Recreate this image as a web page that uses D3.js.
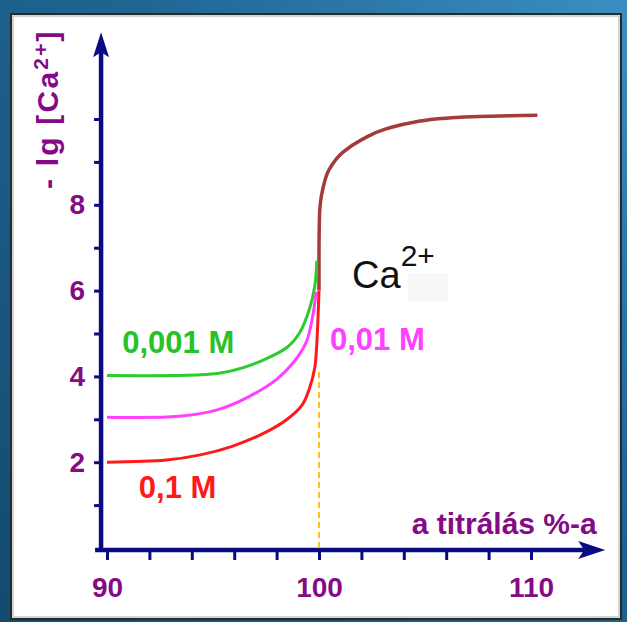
<!DOCTYPE html>
<html><head><meta charset="utf-8">
<script src="https://cdn.jsdelivr.net/npm/d3@7"></script>
<style>html,body{margin:0;padding:0;background:#1a5880;overflow:hidden} svg{display:block}</style>
</head><body><svg id="c" width="627" height="622"></svg>
<script>
// ---- data ----
const xTickValues = [90, 92, 94, 96, 98, 100, 102, 104, 106, 108, 110];
const xTickLabels = [90, 100, 110];
const yTickValues = [1, 2, 3, 4, 5, 6, 7, 8, 9, 10];
const yTickLabels = [2, 4, 6, 8];
const seriesNames = ["0,1 M", "0,01 M", "0,001 M"];
const curve0_1 = [[90, 2.0], [92.8, 2.05], [94.4, 2.17], [95.9, 2.37], [97.5, 2.70], [98.5, 3.0], [99.2, 3.33], [99.55, 3.72], [99.8, 4.2], [99.9, 4.8], [100, 6.0]];
const curve0_01 = [[90, 3.05], [93.4, 3.07], [95.2, 3.22], [96.7, 3.53], [98.0, 3.93], [98.8, 4.33], [99.4, 4.8], [99.7, 5.4], [99.87, 5.97]];
const curve0_001 = [[90, 4.02], [95.2, 4.07], [96.4, 4.2], [97.5, 4.41], [98.5, 4.68], [99.1, 5.03], [99.55, 5.57], [99.8, 6.1], [99.9, 6.7]];
const curveExcess = [[100, 6.0], [100, 6.8], [100.02, 7.7], [100.18, 8.37], [100.49, 8.83], [101.12, 9.22], [102.06, 9.53], [103.16, 9.77], [104.41, 9.92], [105.99, 10.02], [107.55, 10.06], [110.3, 10.09]];
const equivalence = 100;

// ---- layout ----
const W = 627, H = 622;
const svg = d3.select("#c");
const FONT = "'Liberation Sans', Arial, sans-serif";
const PURPLE = "#850a85", NAVY = "#0a0a82";

const defs = svg.append("defs");
const g = defs.append("linearGradient").attr("id", "bg").attr("x1", 0).attr("y1", 1).attr("x2", 1).attr("y2", 0);
g.append("stop").attr("offset", 0).attr("stop-color", "#134a70");
g.append("stop").attr("offset", 0.6).attr("stop-color", "#1f6592");
g.append("stop").attr("offset", 1).attr("stop-color", "#3a8fc2");
svg.append("rect").attr("width", W).attr("height", H).attr("fill", "url(#bg)");

// panel
svg.append("rect").attr("x", 11).attr("y", 14).attr("width", 610).attr("height", 605)
  .attr("fill", "#fff").attr("stroke", "#2a2a2a").attr("stroke-width", 2);
svg.append("rect").attr("x", 13).attr("y", 16).attr("width", 606).attr("height", 601)
  .attr("fill", "none").attr("stroke", "#aaa").attr("stroke-width", 1);

const x = d3.scaleLinear().domain([90, 110]).range([107, 531]);
const y = d3.scaleLinear().domain([0, 10]).range([548, 119]);

const axisY0 = y(0) + 2;
const axisX0 = x(89.72);

// x axis ticks
const xa = svg.append("g").attr("transform", `translate(0,${axisY0})`)
  .call(d3.axisBottom(x).tickValues(xTickValues).tickSize(10).tickPadding(17)
    .tickFormat(d => xTickLabels.includes(d) ? d : ""));
xa.select(".domain").remove();
xa.selectAll("line").attr("stroke", NAVY).attr("stroke-width", 3);
xa.selectAll("text").attr("fill", PURPLE).style("font", `bold 28px ${FONT}`);

// y axis ticks
const ya = svg.append("g").attr("transform", `translate(${axisX0},0)`)
  .call(d3.axisLeft(y).tickValues(yTickValues).tickSize(7).tickPadding(9)
    .tickFormat(d => yTickLabels.includes(d) ? d : ""));
ya.select(".domain").remove();
ya.selectAll("line").attr("stroke", NAVY).attr("stroke-width", 3);
ya.selectAll("text").attr("fill", PURPLE).style("font", `bold 28px ${FONT}`);

// axis lines with arrows
svg.append("line").attr("x1", axisX0).attr("x2", axisX0).attr("y1", axisY0 + 2).attr("y2", y(11.6))
  .attr("stroke", NAVY).attr("stroke-width", 4.5);
svg.append("line").attr("x1", axisX0 - 6).attr("x2", x(112.5)).attr("y1", axisY0).attr("y2", axisY0)
  .attr("stroke", NAVY).attr("stroke-width", 4.5);
const tipY = y(12.02), tipX = x(113.5);
svg.append("path").attr("d", `M${axisX0},${tipY} L${axisX0 + 8},${tipY + 25} L${axisX0},${tipY + 20} L${axisX0 - 8},${tipY + 25} Z`).attr("fill", NAVY);
svg.append("path").attr("d", `M${tipX},${axisY0} L${tipX - 27},${axisY0 + 9} L${tipX - 21},${axisY0} L${tipX - 27},${axisY0 - 9} Z`).attr("fill", NAVY);

// dashed equivalence line
svg.append("line").attr("x1", x(equivalence)).attr("x2", x(equivalence)).attr("y1", axisY0 - 2).attr("y2", y(4.1))
  .attr("stroke", "#ffc21a").attr("stroke-width", 2).attr("stroke-dasharray", "6,4");

// curves
const lineX = d3.line().x(d => x(d[0])).y(d => y(d[1])).curve(d3.curveCatmullRom.alpha(0.5));
const lineY = d3.line().x(d => x(d[0])).y(d => y(d[1])).curve(d3.curveMonotoneY);
svg.append("path").attr("d", lineY(curveExcess)).attr("fill", "none").attr("stroke", "#a33b3b").attr("stroke-width", 3.5);
svg.append("path").attr("d", lineX(curve0_001)).attr("fill", "none").attr("stroke", "#2ccc2c").attr("stroke-width", 3);
svg.append("path").attr("d", lineX(curve0_01)).attr("fill", "none").attr("stroke", "#ff40ff").attr("stroke-width", 3);
svg.append("path").attr("d", lineX(curve0_1)).attr("fill", "none").attr("stroke", "#ff1a1a").attr("stroke-width", 3);

// series labels
svg.append("text").attr("x", x(90.72)).attr("y", y(4.55)).attr("fill", "#26c226")
  .style("font", `bold 31px ${FONT}`).text(seriesNames[2]);
svg.append("text").attr("x", x(100.52)).attr("y", y(4.62)).attr("fill", "#ff40ff")
  .style("font", `bold 31px ${FONT}`).text(seriesNames[1]);
svg.append("text").attr("x", x(91.5)).attr("y", y(1.17)).attr("fill", "#ff1a1a")
  .style("font", `bold 31px ${FONT}`).text(seriesNames[0]);

// Ca2+ label
svg.append("rect").attr("x", x(104.18)).attr("y", y(6.4)).attr("width", 40).attr("height", 28).attr("fill", "#f7f7f7");
const ca = svg.append("text").attr("x", x(101.56)).attr("y", y(6.07)).attr("fill", "#111")
  .style("font", `38px ${FONT}`);
ca.append("tspan").text("Ca");
ca.append("tspan").attr("dy", -22).style("font-size", "30px").text("2+");

// y axis title
const yt = svg.append("text").attr("transform", `translate(58,189) rotate(-90)`).attr("fill", PURPLE)
  .style("font", `bold 30px ${FONT}`).style("letter-spacing", "2.2px");
yt.append("tspan").text("- lg [Ca");
yt.append("tspan").attr("dy", -10).style("font-size", "21px").text("2+");
yt.append("tspan").attr("dy", 10).text("]");

// x axis title
svg.append("text").attr("x", x(113.1)).attr("y", y(0.33)).attr("text-anchor", "end").attr("fill", PURPLE)
  .style("font", `bold 30px ${FONT}`).text("a titrálás %-a");
</script></body></html>
